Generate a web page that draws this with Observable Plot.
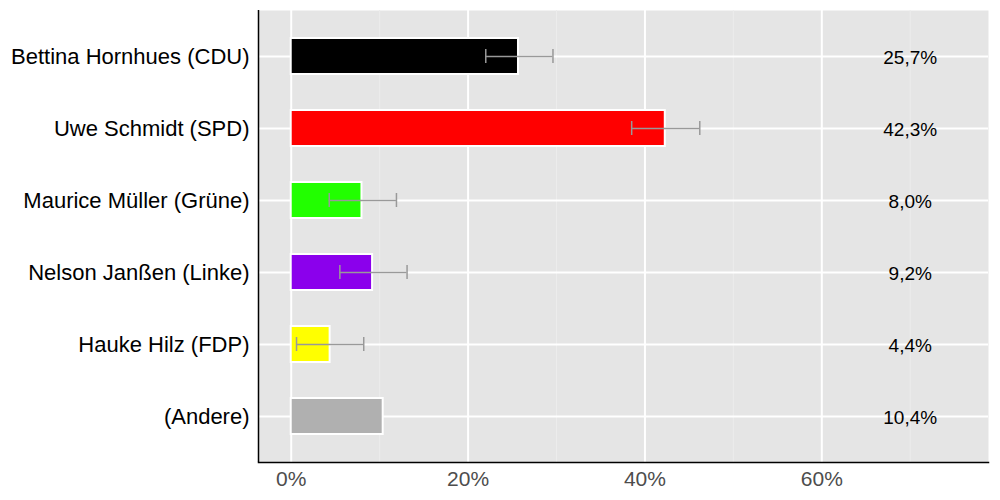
<!DOCTYPE html>
<html><head><meta charset="utf-8">
<script src="https://cdn.jsdelivr.net/npm/d3@7"></script>
<script src="https://cdn.jsdelivr.net/npm/@observablehq/plot@0.6"></script>
<style>body{margin:0;background:#fff;font-family:"Liberation Sans",Arial,Helvetica,sans-serif;}</style>
</head><body><div id="chart"></div>
<script>
const candidates = ["Bettina Hornhues (CDU)","Uwe Schmidt (SPD)","Maurice Müller (Grüne)","Nelson Janßen (Linke)","Hauke Hilz (FDP)","(Andere)"];
const values = [25.7, 42.3, 8.0, 9.2, 4.4, 10.4];
const errLow = [22.0, 38.5, 4.3, 5.5, 0.6, null];
const errHigh = [29.6, 46.2, 11.9, 13.1, 8.2, null];
const colors = ["#000000","#ff0000","#22ff00","#8b00ec","#ffff00","#b0b0b0"];
const majorTicks = [0, 20, 40, 60];
const minorTicks = [10, 30, 50, 70];
const labelPos = 70;

const data = candidates.map((c,i)=>({c, v: values[i], lo: errLow[i], hi: errHigh[i], col: colors[i]}));
const errs = data.filter(d=>d.lo!=null);
const fmt = v => v.toFixed(1).replace(".", ",") + "%";

let bottomLine;
try { bottomLine = Plot.frame({anchor:"bottom", stroke:"black", strokeWidth:1.5}); } catch(e) { bottomLine = null; }

const plot = Plot.plot({
  width: 1000, height: 500,
  marginLeft: 258, marginRight: 12, marginTop: 10, marginBottom: 38,
  style: {fontFamily: '"Liberation Sans", Arial, Helvetica, sans-serif', background: "white"},
  x: {domain: [-3.7, 78.85], ticks: majorTicks, tickFormat: d => d + "%"},
  y: {domain: candidates, paddingInner: 0.5, paddingOuter: 0.35},
  marks: [
    Plot.frame({fill: "#e5e5e5", stroke: null}),
    Plot.ruleX(minorTicks, {stroke: "#ececec", strokeWidth: 1}),
    Plot.ruleX(majorTicks, {stroke: "white", strokeWidth: 2}),
    Plot.tickY(candidates, {y: d => d, stroke: "white", strokeWidth: 2}),
    Plot.barX(data, {y: "c", x1: 0, x2: "v", fill: "col", stroke: "white", strokeWidth: 2}),
    Plot.ruleY(errs, {y: "c", x1: "lo", x2: "hi", stroke: "#999999", strokeWidth: 1.5}),
    Plot.tickX(errs, {y: "c", x: "lo", stroke: "#999999", strokeWidth: 1.5, insetTop: 11, insetBottom: 11}),
    Plot.tickX(errs, {y: "c", x: "hi", stroke: "#999999", strokeWidth: 1.5, insetTop: 11, insetBottom: 11}),
    Plot.text(data, {y: "c", x: () => labelPos, text: d => fmt(d.v), fontSize: 19, fill: "black", textAnchor: "middle", dy: 1}),
    Plot.ruleX([-3.7], {stroke: "black", strokeWidth: 1.5}),
    bottomLine,
    Plot.axisY({tickSize: 0, tickPadding: 9, fontSize: 22, color: "black", label: null}),
    Plot.axisX({tickSize: 0, tickPadding: 9, fontSize: 21, color: "#4d4d4d", label: null, ticks: majorTicks, tickFormat: d => d + "%"})
  ]
});
document.getElementById("chart").appendChild(plot);
</script></body></html>
